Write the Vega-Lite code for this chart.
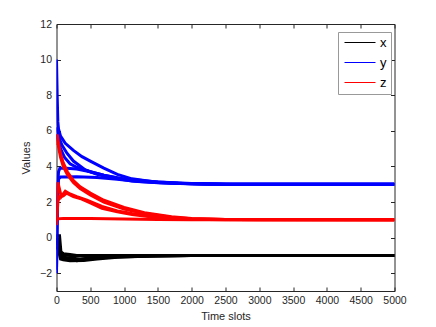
{
"$schema":"https://vega.github.io/schema/vega-lite/v6.json",
"autosize":{"type":"none"},
"padding":{"left":56.5,"top":24,"right":41.5,"bottom":36},
"width":338,"height":267,
"background":"white",
"config":{"view":{"stroke":null},"font":"Liberation Sans",
 "axis":{"grid":false,"domainColor":"#262626","tickColor":"#262626","labelColor":"#262626","titleColor":"#262626","labelFontSize":10.5,"titleFontSize":11,"titleFontWeight":"normal","labelFont":"Liberation Sans","titleFont":"Liberation Sans","tickSize":-4,"domainWidth":1,"tickWidth":1}},
"data":{"values":[
{"s":"x","a":1,"t":0,"v":0.2},{"s":"x","a":1,"t":20,"v":0.1},{"s":"x","a":1,"t":45,"v":0.1},{"s":"x","a":1,"t":70,"v":-1.0},{"s":"x","a":1,"t":100,"v":-1.15},{"s":"x","a":1,"t":200,"v":-1.22},{"s":"x","a":1,"t":300,"v":-1.3},{"s":"x","a":1,"t":500,"v":-1.2},{"s":"x","a":1,"t":700,"v":-1.12},{"s":"x","a":1,"t":1000,"v":-1.07},{"s":"x","a":1,"t":1500,"v":-1.03},{"s":"x","a":1,"t":2000,"v":-1.01},{"s":"x","a":1,"t":2500,"v":-1},{"s":"x","a":1,"t":5000,"v":-1},
{"s":"x","a":2,"t":0,"v":0},{"s":"x","a":2,"t":30,"v":-0.2},{"s":"x","a":2,"t":60,"v":-1.0},{"s":"x","a":2,"t":100,"v":-1.1},{"s":"x","a":2,"t":200,"v":-1.15},{"s":"x","a":2,"t":350,"v":-1.2},{"s":"x","a":2,"t":500,"v":-1.15},{"s":"x","a":2,"t":700,"v":-1.1},{"s":"x","a":2,"t":1000,"v":-1.05},{"s":"x","a":2,"t":1500,"v":-1.02},{"s":"x","a":2,"t":2000,"v":-1},{"s":"x","a":2,"t":5000,"v":-1},
{"s":"x","a":3,"t":0,"v":-0.2},{"s":"x","a":3,"t":30,"v":-0.5},{"s":"x","a":3,"t":60,"v":-0.8},{"s":"x","a":3,"t":100,"v":-0.9},{"s":"x","a":3,"t":200,"v":-0.95},{"s":"x","a":3,"t":300,"v":-1.0},{"s":"x","a":3,"t":500,"v":-1.05},{"s":"x","a":3,"t":800,"v":-1.05},{"s":"x","a":3,"t":1200,"v":-1.02},{"s":"x","a":3,"t":2000,"v":-1},{"s":"x","a":3,"t":5000,"v":-1},
{"s":"x","a":4,"t":0,"v":0.1},{"s":"x","a":4,"t":20,"v":-0.6},{"s":"x","a":4,"t":60,"v":-1.2},{"s":"x","a":4,"t":100,"v":-1.25},{"s":"x","a":4,"t":200,"v":-1.3},{"s":"x","a":4,"t":400,"v":-1.28},{"s":"x","a":4,"t":600,"v":-1.2},{"s":"x","a":4,"t":900,"v":-1.1},{"s":"x","a":4,"t":1400,"v":-1.04},{"s":"x","a":4,"t":2000,"v":-1.01},{"s":"x","a":4,"t":5000,"v":-1},
{"s":"x","a":5,"t":0,"v":-0.5},{"s":"x","a":5,"t":30,"v":-0.7},{"s":"x","a":5,"t":80,"v":-0.95},{"s":"x","a":5,"t":200,"v":-1.0},{"s":"x","a":5,"t":500,"v":-1.0},{"s":"x","a":5,"t":5000,"v":-1},
{"s":"y","a":1,"t":0,"v":10},{"s":"y","a":1,"t":10,"v":8},{"s":"y","a":1,"t":20,"v":6.5},{"s":"y","a":1,"t":30,"v":6.1},{"s":"y","a":1,"t":60,"v":5.7},{"s":"y","a":1,"t":130,"v":5.3},{"s":"y","a":1,"t":250,"v":4.9},{"s":"y","a":1,"t":377,"v":4.55},{"s":"y","a":1,"t":500,"v":4.3},{"s":"y","a":1,"t":700,"v":3.9},{"s":"y","a":1,"t":900,"v":3.55},{"s":"y","a":1,"t":1117,"v":3.3},{"s":"y","a":1,"t":1400,"v":3.15},{"s":"y","a":1,"t":1800,"v":3.06},{"s":"y","a":1,"t":2200,"v":3.02},{"s":"y","a":1,"t":2600,"v":3},{"s":"y","a":1,"t":5000,"v":3},
{"s":"y","a":2,"t":0,"v":6.2},{"s":"y","a":2,"t":15,"v":6.0},{"s":"y","a":2,"t":32,"v":5.67},{"s":"y","a":2,"t":80,"v":5.2},{"s":"y","a":2,"t":155,"v":4.74},{"s":"y","a":2,"t":250,"v":4.3},{"s":"y","a":2,"t":426,"v":3.8},{"s":"y","a":2,"t":600,"v":3.55},{"s":"y","a":2,"t":800,"v":3.38},{"s":"y","a":2,"t":1117,"v":3.18},{"s":"y","a":2,"t":1500,"v":3.08},{"s":"y","a":2,"t":2000,"v":3.02},{"s":"y","a":2,"t":2500,"v":3},{"s":"y","a":2,"t":5000,"v":3},
{"s":"y","a":3,"t":0,"v":-2},{"s":"y","a":3,"t":10,"v":1},{"s":"y","a":3,"t":20,"v":3.0},{"s":"y","a":3,"t":30,"v":3.7},{"s":"y","a":3,"t":50,"v":3.9},{"s":"y","a":3,"t":150,"v":3.9},{"s":"y","a":3,"t":300,"v":3.85},{"s":"y","a":3,"t":500,"v":3.7},{"s":"y","a":3,"t":700,"v":3.5},{"s":"y","a":3,"t":900,"v":3.35},{"s":"y","a":3,"t":1117,"v":3.22},{"s":"y","a":3,"t":1500,"v":3.1},{"s":"y","a":3,"t":2000,"v":3.03},{"s":"y","a":3,"t":2500,"v":3},{"s":"y","a":3,"t":5000,"v":3},
{"s":"y","a":4,"t":0,"v":-1.8},{"s":"y","a":4,"t":15,"v":2},{"s":"y","a":4,"t":30,"v":3.3},{"s":"y","a":4,"t":60,"v":3.4},{"s":"y","a":4,"t":300,"v":3.42},{"s":"y","a":4,"t":600,"v":3.38},{"s":"y","a":4,"t":900,"v":3.28},{"s":"y","a":4,"t":1200,"v":3.15},{"s":"y","a":4,"t":1700,"v":3.05},{"s":"y","a":4,"t":2200,"v":3},{"s":"y","a":4,"t":5000,"v":3},
{"s":"y","a":5,"t":0,"v":5.8},{"s":"y","a":5,"t":20,"v":5.5},{"s":"y","a":5,"t":60,"v":5.0},{"s":"y","a":5,"t":120,"v":4.5},{"s":"y","a":5,"t":200,"v":4.15},{"s":"y","a":5,"t":300,"v":3.95},{"s":"y","a":5,"t":500,"v":3.7},{"s":"y","a":5,"t":700,"v":3.5},{"s":"y","a":5,"t":1000,"v":3.3},{"s":"y","a":5,"t":1500,"v":3.12},{"s":"y","a":5,"t":2000,"v":3.04},{"s":"y","a":5,"t":2500,"v":3},{"s":"y","a":5,"t":5000,"v":3},
{"s":"z","a":1,"t":0,"v":5.5},{"s":"z","a":1,"t":10,"v":5.8},{"s":"z","a":1,"t":30,"v":5.3},{"s":"z","a":1,"t":60,"v":4.7},{"s":"z","a":1,"t":100,"v":4.2},{"s":"z","a":1,"t":160,"v":3.7},{"s":"z","a":1,"t":250,"v":3.2},{"s":"z","a":1,"t":350,"v":2.85},{"s":"z","a":1,"t":500,"v":2.5},{"s":"z","a":1,"t":700,"v":2.1},{"s":"z","a":1,"t":1000,"v":1.7},{"s":"z","a":1,"t":1300,"v":1.4},{"s":"z","a":1,"t":1700,"v":1.17},{"s":"z","a":1,"t":2000,"v":1.08},{"s":"z","a":1,"t":2500,"v":1.02},{"s":"z","a":1,"t":3000,"v":1},{"s":"z","a":1,"t":5000,"v":1},
{"s":"z","a":2,"t":0,"v":5.2},{"s":"z","a":2,"t":10,"v":5.5},{"s":"z","a":2,"t":30,"v":5.1},{"s":"z","a":2,"t":60,"v":4.5},{"s":"z","a":2,"t":100,"v":4.0},{"s":"z","a":2,"t":160,"v":3.55},{"s":"z","a":2,"t":250,"v":3.1},{"s":"z","a":2,"t":350,"v":2.75},{"s":"z","a":2,"t":500,"v":2.4},{"s":"z","a":2,"t":700,"v":2.0},{"s":"z","a":2,"t":1000,"v":1.6},{"s":"z","a":2,"t":1300,"v":1.35},{"s":"z","a":2,"t":1700,"v":1.15},{"s":"z","a":2,"t":2000,"v":1.06},{"s":"z","a":2,"t":2500,"v":1.01},{"s":"z","a":2,"t":5000,"v":1},
{"s":"z","a":3,"t":0,"v":0.9},{"s":"z","a":3,"t":10,"v":2.5},{"s":"z","a":3,"t":20,"v":3.1},{"s":"z","a":3,"t":40,"v":2.8},{"s":"z","a":3,"t":70,"v":2.3},{"s":"z","a":3,"t":100,"v":2.45},{"s":"z","a":3,"t":130,"v":2.6},{"s":"z","a":3,"t":200,"v":2.45},{"s":"z","a":3,"t":300,"v":2.3},{"s":"z","a":3,"t":450,"v":2.1},{"s":"z","a":3,"t":673,"v":1.75},{"s":"z","a":3,"t":900,"v":1.5},{"s":"z","a":3,"t":1117,"v":1.35},{"s":"z","a":3,"t":1400,"v":1.2},{"s":"z","a":3,"t":1700,"v":1.1},{"s":"z","a":3,"t":2000,"v":1.04},{"s":"z","a":3,"t":2500,"v":1.01},{"s":"z","a":3,"t":5000,"v":1},
{"s":"z","a":4,"t":0,"v":0.7},{"s":"z","a":4,"t":20,"v":2.0},{"s":"z","a":4,"t":40,"v":2.3},{"s":"z","a":4,"t":100,"v":2.35},{"s":"z","a":4,"t":150,"v":2.5},{"s":"z","a":4,"t":250,"v":2.3},{"s":"z","a":4,"t":350,"v":2.2},{"s":"z","a":4,"t":500,"v":1.95},{"s":"z","a":4,"t":673,"v":1.65},{"s":"z","a":4,"t":900,"v":1.45},{"s":"z","a":4,"t":1117,"v":1.3},{"s":"z","a":4,"t":1500,"v":1.12},{"s":"z","a":4,"t":2000,"v":1.03},{"s":"z","a":4,"t":2500,"v":1},{"s":"z","a":4,"t":5000,"v":1},
{"s":"z","a":5,"t":0,"v":1.05},{"s":"z","a":5,"t":100,"v":1.08},{"s":"z","a":5,"t":500,"v":1.08},{"s":"z","a":5,"t":1000,"v":1.05},{"s":"z","a":5,"t":1500,"v":1.02},{"s":"z","a":5,"t":2000,"v":1},{"s":"z","a":5,"t":5000,"v":1}
]},
"layer":[
 {"mark":{"type":"line","strokeWidth":3,"clip":true},
  "encoding":{
   "x":{"field":"t","type":"quantitative","scale":{"domain":[0,5000],"nice":false,"zero":false},"axis":{"orient":"bottom","title":"Time slots","format":"d","values":[0,500,1000,1500,2000,2500,3000,3500,4000,4500,5000],"labelPadding":8,"titlePadding":5,"labelFlush":false}},
   "y":{"field":"v","type":"quantitative","scale":{"domain":[-3,12],"nice":false,"zero":false},"axis":{"orient":"left","title":"Values","format":"d","values":[-2,0,2,4,6,8,10,12],"labelPadding":9,"titlePadding":8,"labelFlush":false}},
   "color":{"field":"s","type":"nominal","scale":{"domain":["x","y","z"],"range":["#000000","#0000ff","#ff0000"]},
     "legend":{"title":null,"orient":"none","legendX":281.5,"legendY":8,"symbolType":"M-0.8,0H5.4","symbolSize":100,"symbolStrokeWidth":1,"labelFontSize":13,"labelFont":"Liberation Sans","labelColor":"#000000","labelOffset":25,"padding":4,"rowPadding":6,"strokeColor":"#999999","fillColor":"white"}},
   "detail":{"field":"a"}
  }},
 {"mark":{"type":"point","opacity":0},
  "encoding":{
   "x":{"field":"t","type":"quantitative","axis":{"orient":"top","title":null,"labels":false,"values":[0,500,1000,1500,2000,2500,3000,3500,4000,4500,5000]}},
   "y":{"field":"v","type":"quantitative","axis":{"orient":"right","title":null,"labels":false,"values":[-2,0,2,4,6,8,10,12]}}
  }}
],
"resolve":{"axis":{"x":"independent","y":"independent"}}
}
